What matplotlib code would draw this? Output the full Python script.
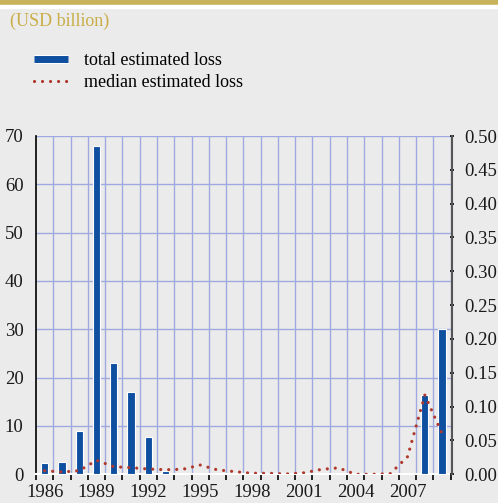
#!/usr/bin/env python3
"""
Total vs median estimated loss, 1986-2009 (USD billion).
Bars on the left axis, dotted median line on the right axis.
"""

import numpy as np
import matplotlib
matplotlib.use("Agg")
import matplotlib.pyplot as plt
from matplotlib.patches import Rectangle
from matplotlib.lines import Line2D
import matplotlib.patheffects as pe

# Data
years = list(range(1986, 2010))
total_loss = [2.3, 2.5, 9.0, 68.0, 23.0, 17.1, 7.7, 0.7,
              0, 0, 0, 0, 0, 0, 0, 0, 0.15, 0, 0, 0, 0, 0,
              16.4, 30.0]
median_loss = [0.0053, 0.0034, 0.0053, 0.0207, 0.0112, 0.0098, 0.0078, 0.0068,
               0.0074, 0.0137, 0.0065, 0.0040, 0.0015, 0.0015, 0.0005, 0.0022,
               0.0072, 0.0095, 0.0, 0.0, 0.001, 0.026, 0.117, 0.060]
year_labels = [1986, 1989, 1992, 1995, 1998, 2001, 2004, 2007]

BG = '#ebebeb'
BLUE = '#0f4fa0'
RED = '#b0392e'
GRID = '#9fa9e0'
GOLD = '#c8b35a'
TXT = '#1a1a1a'

plt.rcParams['font.family'] = ['Liberation Serif', 'DejaVu Serif']

W, H = 498, 503
fig = plt.figure(figsize=(W / 100, H / 100), dpi=100, facecolor=BG)

# gold band + white strip at the top
fig.patches.append(Rectangle((0, 1 - 5.3 / H), 1, 5.3 / H, transform=fig.transFigure,
                             color=GOLD, zorder=0))
fig.patches.append(Rectangle((0, 1 - 8.3 / H), 1, 3.0 / H, transform=fig.transFigure,
                             color='white', zorder=0))
fig.text(10 / W, 1 - 21 / H, '(USD billion)', color='#c9ae48', fontsize=13,
         va='center', ha='left')

left, right = 36 / W, 452.3 / W
bottom, top = (H - 474.3) / H, (H - 136) / H
ax = fig.add_axes([left, bottom, right - left, top - bottom], facecolor=BG)
ax2 = ax.twinx()

x = np.arange(len(years))
ax.bar(x, total_loss, width=0.42, color=BLUE, edgecolor='white', linewidth=0.8, zorder=3)
ax2.plot(x, median_loss, color=RED, linewidth=2.3, linestyle=(0, (0.01, 2.5)),
         dash_capstyle='round', zorder=4)

ax.set_xlim(-0.40, 23.59)
ax.set_ylim(0, 70)
ax2.set_ylim(0, 0.5)

# grid: horizontal from left axis, vertical at category boundaries
ax.set_yticks(np.arange(0, 71, 10))
ax.yaxis.grid(True, color=GRID, linewidth=1.0, zorder=1)
for b in np.arange(0.5, 24, 1):
    ax.axvline(b, color=GRID, linewidth=1.0, zorder=1)

ax.set_xticks([years.index(y) for y in year_labels])
ax.set_xticklabels([str(y) for y in year_labels])
ax.set_xticks(np.arange(-0.5, 24, 1), minor=True)
ax.tick_params(axis='x', which='major', length=0, pad=7, labelsize=13.5, labelcolor=TXT)
ax.tick_params(axis='x', which='minor', length=4, width=1.2, color='black', direction='out')
ax.tick_params(axis='y', length=0, pad=9, labelsize=13.5, labelcolor=TXT)

ax2.set_yticks(np.arange(0, 0.501, 0.05))
ax2.set_yticklabels([f'{v:.2f}' for v in np.arange(0, 0.501, 0.05)])
ax2.tick_params(axis='y', length=3, width=1.2, direction='inout', pad=7,
                labelsize=13.5, labelcolor=TXT)

ax.spines['top'].set_visible(False)
ax2.spines['top'].set_visible(False)
ax.spines['right'].set_visible(False)
ax2.spines['left'].set_visible(False)
ax2.spines['bottom'].set_visible(False)
ax.spines['left'].set_color('black')
ax.spines['left'].set_linewidth(1.2)
ax.spines['bottom'].set_color('white')
ax.spines['bottom'].set_linewidth(1.5)
ax2.spines['right'].set_color('#555555')
ax2.spines['right'].set_linewidth(1.5)

# legend
h_bar = Line2D([], [], color=BLUE, linewidth=5, solid_capstyle='butt',
               path_effects=[pe.Stroke(linewidth=6.5, foreground='white'), pe.Normal()])
h_med = Line2D([], [], color=RED, linewidth=2.3, linestyle=(0, (0.01, 2.5)),
               dash_capstyle='round')
fig.legend([h_bar, h_med], ['total estimated loss', 'median estimated loss'],
           loc='upper left', bbox_to_anchor=(34 / W, 1 - 52 / H), frameon=False,
           fontsize=13, handlelength=1.9, handletextpad=0.85, labelspacing=0.28,
           borderpad=0, borderaxespad=0)

fig.savefig('out.png', dpi=100, facecolor=BG)
